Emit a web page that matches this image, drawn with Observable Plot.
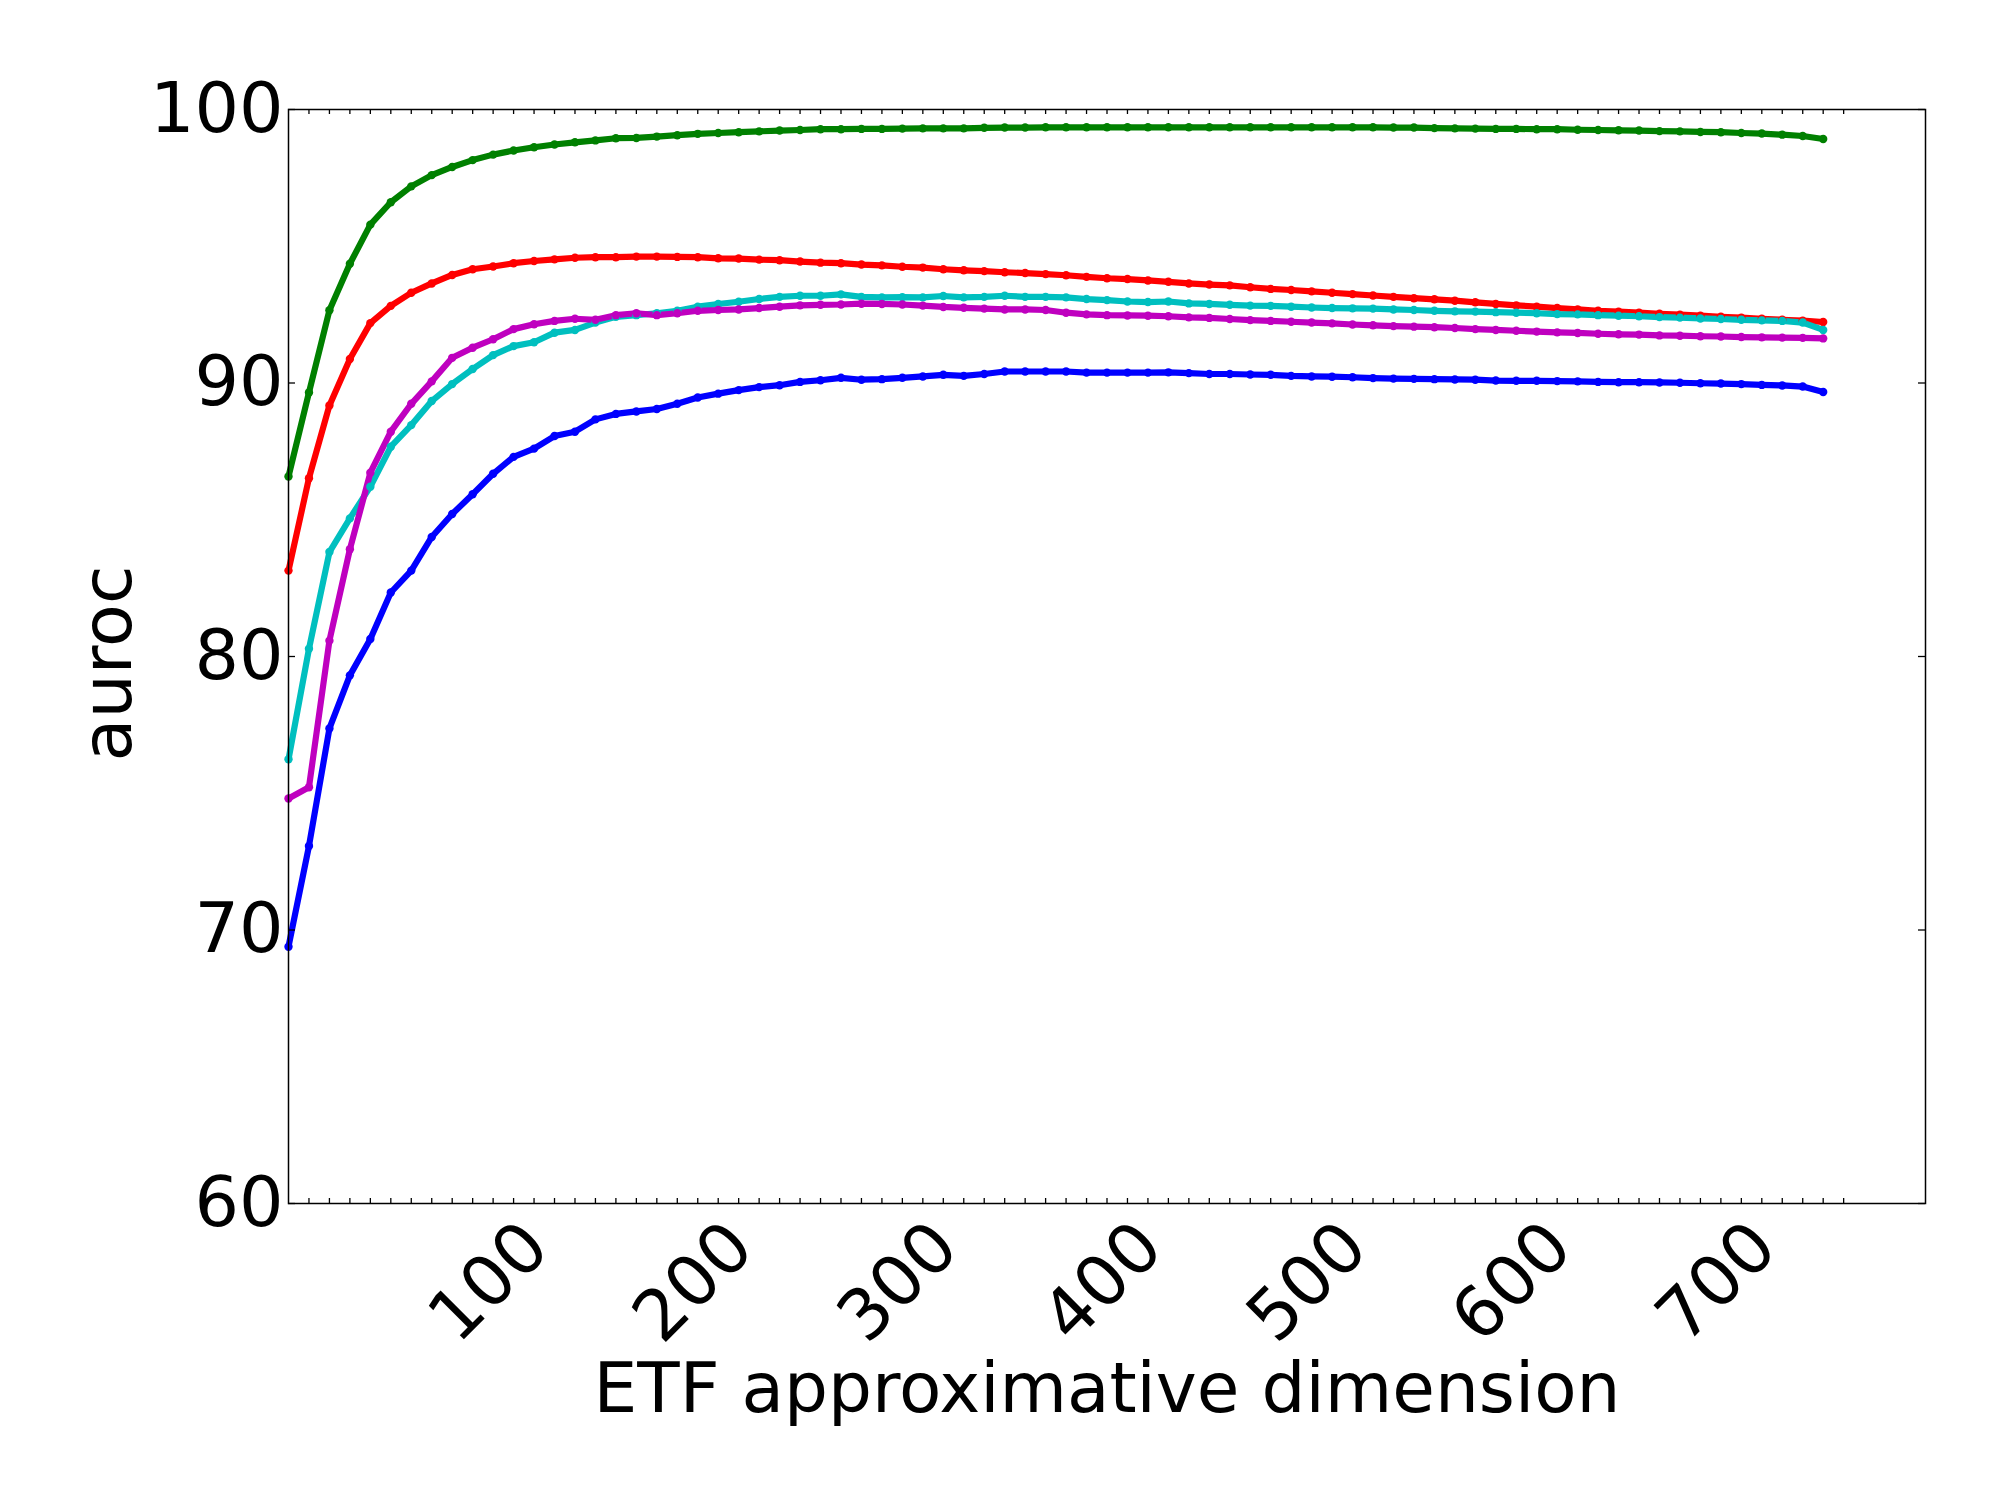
<!DOCTYPE html>
<html><head><meta charset="utf-8">
<script src="https://cdn.jsdelivr.net/npm/d3@7"></script>
<script src="https://cdn.jsdelivr.net/npm/@observablehq/plot@0.6"></script>
<style>html,body{margin:0;padding:0;background:#fff;}</style>
</head><body><div id="chart"></div>
<script>
const dims = [0,10,20,30,40,50,60,70,80,90,100,110,120,130,140,150,160,170,180,190,200,210,220,230,240,250,260,270,280,290,300,310,320,330,340,350,360,370,380,390,400,410,420,430,440,450,460,470,480,490,500,510,520,530,540,550,560,570,580,590,600,610,620,630,640,650,660,670,680,690,700,710,720,730,740,750];

const blue = [69.39,73.07,77.37,79.31,80.64,82.34,83.14,84.37,85.21,85.93,86.68,87.3,87.6,88.06,88.22,88.67,88.87,88.96,89.05,89.24,89.47,89.61,89.74,89.85,89.92,90.04,90.10,90.19,90.12,90.14,90.19,90.24,90.30,90.26,90.33,90.42,90.42,90.42,90.42,90.38,90.38,90.38,90.38,90.39,90.36,90.33,90.33,90.31,90.30,90.26,90.24,90.23,90.21,90.18,90.16,90.15,90.14,90.13,90.12,90.09,90.08,90.08,90.07,90.06,90.04,90.03,90.03,90.02,90.01,89.99,89.98,89.96,89.93,89.91,89.87,89.67];

const green = [86.58,89.65,92.66,94.36,95.79,96.61,97.19,97.6,97.9,98.15,98.35,98.5,98.62,98.72,98.8,98.87,98.95,98.96,99.01,99.06,99.11,99.14,99.17,99.20,99.23,99.25,99.28,99.28,99.29,99.29,99.30,99.31,99.31,99.31,99.33,99.34,99.34,99.35,99.35,99.35,99.35,99.35,99.35,99.35,99.35,99.35,99.35,99.35,99.35,99.35,99.35,99.35,99.35,99.35,99.34,99.34,99.32,99.31,99.30,99.29,99.29,99.28,99.28,99.26,99.25,99.24,99.23,99.21,99.20,99.18,99.17,99.14,99.12,99.08,99.03,98.92];

const red = [83.14,86.52,89.18,90.88,92.19,92.82,93.3,93.64,93.95,94.16,94.26,94.38,94.46,94.52,94.58,94.6,94.6,94.62,94.62,94.61,94.60,94.56,94.55,94.51,94.49,94.44,94.40,94.38,94.33,94.30,94.25,94.22,94.16,94.12,94.09,94.05,94.02,93.98,93.94,93.88,93.83,93.80,93.75,93.70,93.64,93.60,93.57,93.50,93.44,93.40,93.35,93.30,93.25,93.20,93.15,93.10,93.06,93.01,92.95,92.89,92.84,92.79,92.74,92.69,92.64,92.61,92.57,92.53,92.50,92.46,92.42,92.39,92.35,92.31,92.28,92.23];

const cyan = [76.24,80.28,83.82,85.05,86.21,87.67,88.46,89.34,89.96,90.51,91.02,91.35,91.49,91.84,91.94,92.21,92.42,92.48,92.55,92.64,92.79,92.89,92.97,93.07,93.15,93.19,93.19,93.24,93.15,93.13,93.14,93.13,93.18,93.13,93.15,93.19,93.15,93.15,93.13,93.07,93.03,92.98,92.96,92.98,92.91,92.89,92.86,92.83,92.82,92.79,92.76,92.74,92.73,92.72,92.69,92.67,92.64,92.62,92.61,92.59,92.57,92.55,92.52,92.51,92.48,92.46,92.44,92.41,92.39,92.36,92.34,92.31,92.29,92.27,92.21,91.94];

const magenta = [74.81,75.22,80.58,83.92,86.72,88.22,89.24,90.06,90.92,91.29,91.6,91.97,92.15,92.27,92.35,92.31,92.48,92.55,92.48,92.55,92.64,92.67,92.69,92.74,92.79,92.84,92.86,92.87,92.90,92.89,92.87,92.83,92.78,92.75,92.72,92.69,92.69,92.67,92.57,92.51,92.48,92.47,92.46,92.44,92.40,92.38,92.34,92.30,92.27,92.24,92.21,92.18,92.14,92.11,92.08,92.06,92.04,92.01,91.97,91.94,91.91,91.88,91.85,91.83,91.80,91.78,91.77,91.74,91.73,91.71,91.70,91.68,91.67,91.66,91.65,91.63];

const seriesNames = ["series b", "series g", "series r", "series c", "series m"];
const seriesColors = ["#0000ff", "#008000", "#ff0000", "#00bfbf", "#bf00bf"];
const seriesValues = [blue, green, red, cyan, magenta];

const yTicks = [60, 70, 80, 90, 100];
const xTickLabels = [100, 200, 300, 400, 500, 600, 700];
const xMinorTicks = d3.range(10, 770, 10);

const rows = [];
seriesNames.forEach((name, i) => dims.forEach((d, j) => rows.push({series: name, dim: d, auroc: seriesValues[i][j]})));

const W = 2000, H = 1500, mL = 288, mR = 75, mT = 109, mB = 297;
const innerW = W - mL - mR, innerH = H - mT - mB;

const chart = Plot.plot({
  width: W, height: H,
  marginLeft: mL, marginRight: mR, marginTop: mT, marginBottom: mB,
  style: {fontFamily: "DejaVu Sans", background: "white", color: "black"},
  x: {domain: [0, 800], axis: null},
  y: {domain: [60, 100]},
  color: {type: "ordinal", domain: seriesNames, range: seriesColors},
  marks: [
    Plot.lineY(rows, {x: "dim", y: "auroc", z: "series", stroke: "series", strokeWidth: 6.2, strokeLinejoin: "round", strokeLinecap: "round"}),
    Plot.dot(rows, {x: "dim", y: "auroc", fill: "series", r: 4.2}),
    Plot.frame({stroke: "black", strokeWidth: 1.5}),
    Plot.tickX(xMinorTicks, {x: d => d, insetTop: innerH - 5, stroke: "black", strokeWidth: 1.3}),
    Plot.tickX(xMinorTicks, {x: d => d, insetBottom: innerH - 5, stroke: "black", strokeWidth: 1.3}),
    Plot.tickY(yTicks, {y: d => d, insetRight: innerW - 7, stroke: "black", strokeWidth: 1.3}),
    Plot.tickY(yTicks, {y: d => d, insetLeft: innerW - 7, stroke: "black", strokeWidth: 1.3}),
    Plot.axisY(yTicks, {tickSize: 0, tickPadding: 5, fontSize: 70, label: null}),
    Plot.text(xTickLabels, {x: d => d, y: 60, text: d => String(d), rotate: -45, dx: -4, dy: 79, fontSize: 70, textAnchor: "middle", lineAnchor: "middle"}),
    Plot.text(["auroc"], {frameAnchor: "left", rotate: -90, dx: -180, dy: 7, fontSize: 70, textAnchor: "middle", lineAnchor: "middle"}),
    Plot.text(["ETF approximative dimension"], {frameAnchor: "bottom", dy: 208, fontSize: 69.3, lineAnchor: "bottom"})
  ]
});
document.getElementById("chart").append(chart);
</script>
</body></html>
